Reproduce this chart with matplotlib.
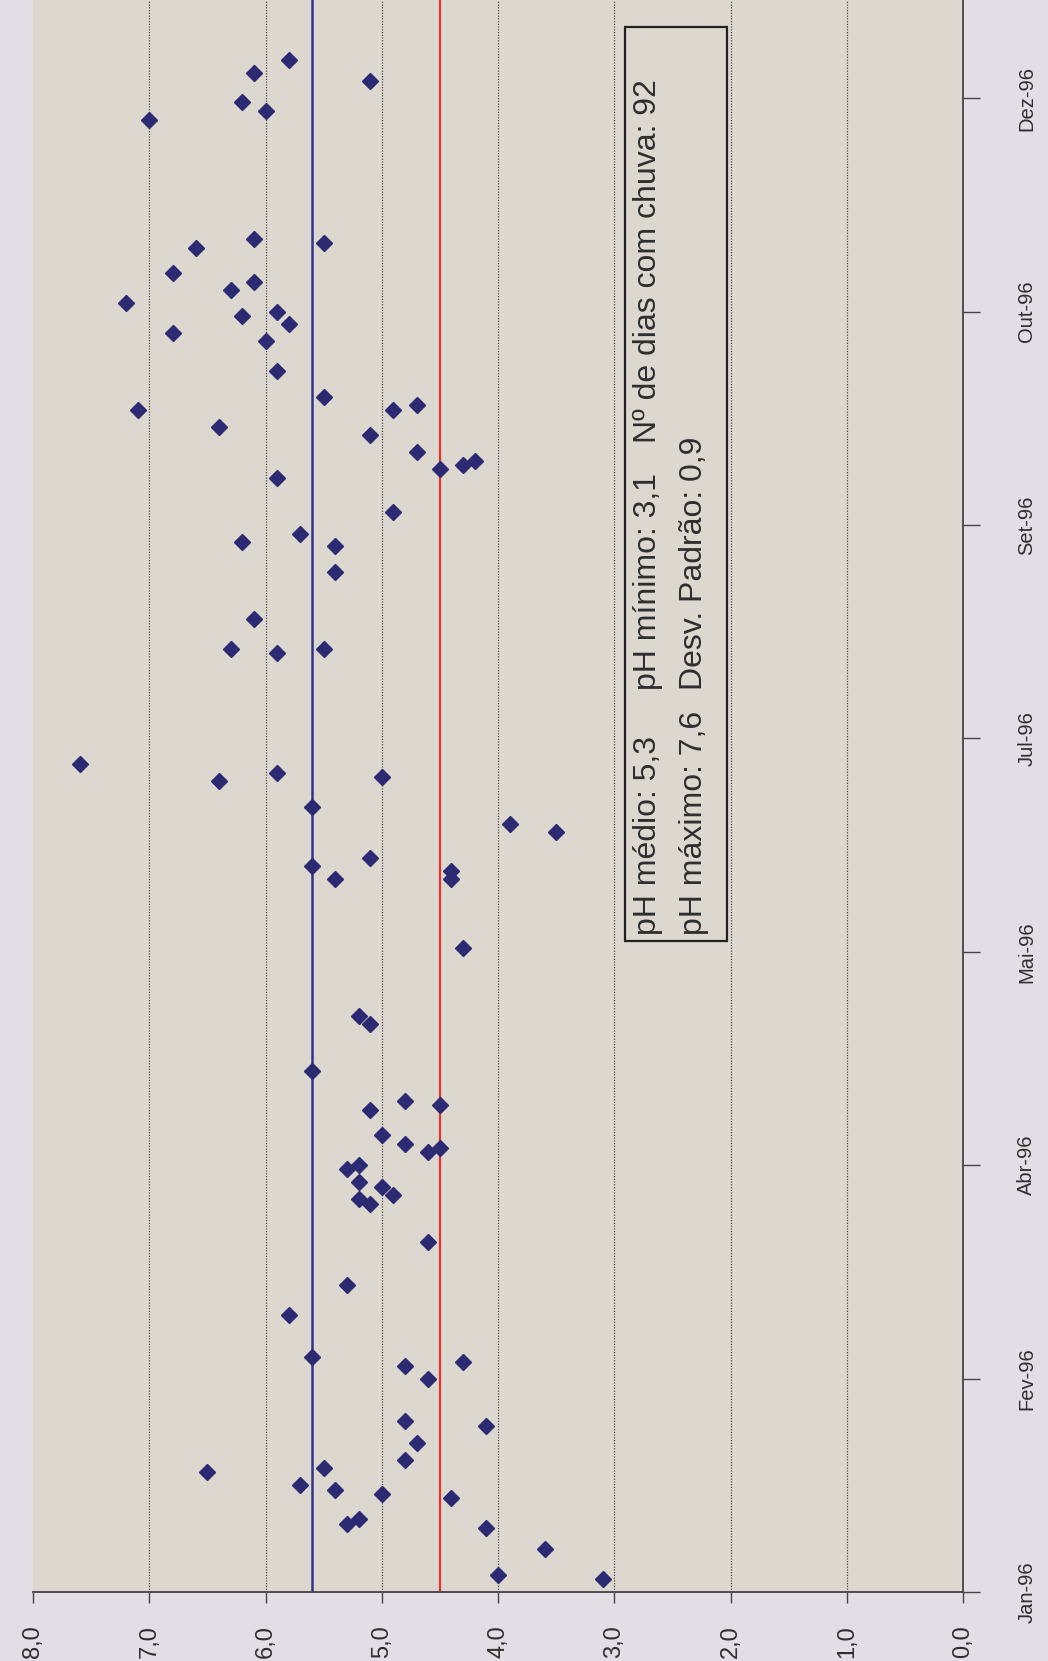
import matplotlib
matplotlib.use("Agg")
import matplotlib.pyplot as plt
from matplotlib.patches import Rectangle
import numpy as np

# Dias desde 01/01/1996 e pH medido na chuva
dias = [3, 4, 10, 15, 16, 17, 22, 23, 24, 25, 28, 29, 31, 35, 39, 40, 50, 53, 54, 55,
        65, 72, 82, 91, 92, 93, 95, 96, 99, 100, 103, 104, 105, 107, 113, 114, 115,
        122, 133, 135, 151, 167, 169, 167, 170, 172, 178, 180,
        184, 191, 192, 190, 194, 220, 221, 221, 228, 239,
        245, 246, 248, 253, 261, 263, 264, 265, 267, 271, 273, 277, 277, 278, 280,
        286, 293, 295, 297, 299, 300, 302, 305, 307,
        309, 315, 316, 317, 345, 347, 349, 354, 356, 359]
ph = [3.1, 4.0, 3.6, 4.1, 5.3, 5.2, 4.4, 5.0, 5.4, 5.7, 6.5, 5.5, 4.8, 4.7, 4.1, 4.8, 4.6, 4.8, 4.3, 5.6,
      5.8, 5.3, 4.6, 5.1, 5.2, 4.9, 5.0, 5.2, 5.3, 5.2, 4.6, 4.5, 4.8, 5.0, 5.1, 4.5, 4.8,
      5.6, 5.1, 5.2, 4.3, 4.4, 4.4, 5.4, 5.6, 5.1, 3.5, 3.9,
      5.6, 5.0, 5.9, 6.4, 7.6, 5.9, 6.3, 5.5, 6.1, 5.4,
      5.4, 6.2, 5.7, 4.9, 5.9, 4.5, 4.3, 4.2, 4.7, 5.1, 6.4, 7.1, 4.9, 4.7, 5.5,
      5.9, 6.0, 6.8, 5.8, 6.2, 5.9, 7.2, 6.3, 6.1,
      6.8, 6.6, 5.5, 6.1, 7.0, 6.0, 6.2, 5.1, 6.1, 5.8]

ph_referencia = 5.6   # chuva natural
ph_acida = 4.5        # limite de chuva acida
meses = ['Jan', 'Fev', 'Mar', 'Abr', 'Mai', 'Jun', 'Jul', 'Ago', 'Set', 'Out', 'Nov', 'Dez']
linha1 = ['pH médio: 5,3', 'pH mínimo: 3,1', 'Nº de dias com chuva: 92']
linha2 = ['pH máximo: 7,6', 'Desv. Padrão: 0,9']

inicio = np.datetime64('1996-01-01')
datas = (inicio + np.array(dias, dtype='timedelta64[D]')).astype('datetime64[D]').astype(object)
ticks = (inicio + np.arange(0, 351, 50).astype('timedelta64[D]')).astype(object)
tick_labels = ['%s-%s' % (meses[d.month - 1], str(d.year)[2:]) for d in ticks]

W, H = 1048, 1661
fig = plt.figure(figsize=(W / 100, H / 100), dpi=100, facecolor='#e3dde6')
ax = fig.add_axes([33 / W, (H - 1592) / H, 930 / W, 1592 / H])
ax.set_facecolor('#ddd8cf')

fonte = 'Liberation Sans'
cor_txt = '#2e2e2e'

# grade pontilhada em cada unidade de pH
for g in range(1, 8):
    ax.axvline(g, color='#4a4a4a', lw=0.9, ls=(0, (1, 1.2)), zorder=1)

ax.axvline(ph_referencia, color='#33338a', lw=1.8, zorder=2)
ax.axvline(ph_acida, color='#e8322c', lw=1.6, zorder=2)

ax.plot(ph, datas, ls='none', marker='D', ms=8.3, color='#2b2a72', zorder=3)

ax.set_xlim(8, 0)
ax.set_ylim(inicio.astype(object), (inicio + np.timedelta64(373, 'D')).astype(object))

ax.set_xticks(range(8, -1, -1))
ax.set_xticklabels(['%d,0' % v for v in range(8, -1, -1)], rotation=90,
                   fontsize=17, family=fonte, color=cor_txt)
ax.tick_params(axis='x', direction='out', length=8, width=1, color='#444444', pad=16)

ax.yaxis.tick_right()
ax.set_yticks(ticks)
ax.set_yticklabels(tick_labels, rotation=90, va='center', fontsize=14.5,
                   family=fonte, color=cor_txt)
ax.tick_params(axis='y', direction='out', length=12, width=1, color='#444444', pad=27)

for s in ['left', 'top']:
    ax.spines[s].set_visible(False)
for s in ['bottom', 'right']:
    ax.spines[s].set_color('#444444')
    ax.spines[s].set_linewidth(1.3)

# caixa de estatisticas (texto girado)
fig.patches.append(Rectangle((625 / W, 1 - 941 / H), 102 / W, 914.5 / H,
                             transform=fig.transFigure, fill=False,
                             edgecolor='#222222', lw=1.6))
col_y = [935, 690, 443]
for txt, y in zip(linha1, col_y):
    fig.text(648 / W, 1 - y / H, txt, rotation=90, ha='center', va='bottom',
             fontsize=23, family=fonte, color=cor_txt)
for txt, y in zip(linha2, col_y):
    fig.text(694 / W, 1 - y / H, txt, rotation=90, ha='center', va='bottom',
             fontsize=23, family=fonte, color=cor_txt)

fig.savefig('out.png', dpi=100, facecolor=fig.get_facecolor())
